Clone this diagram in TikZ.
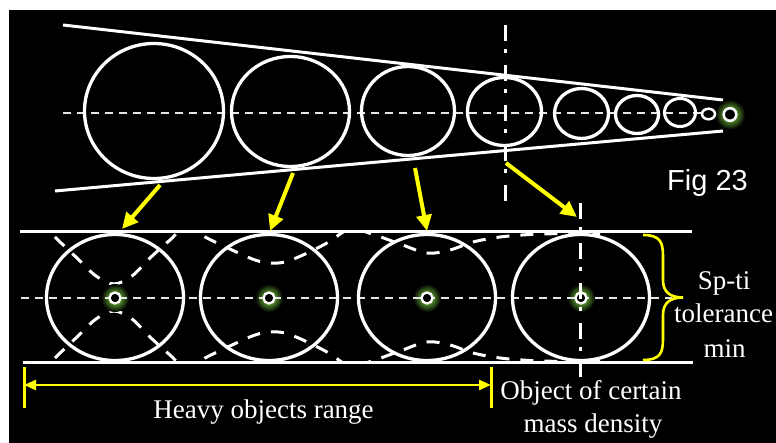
\documentclass[tikz,border=0pt]{standalone}
\usepackage{fontspec}
\setmainfont{Liberation Serif}
\newfontfamily\figfont{Liberation Sans}
\usetikzlibrary{arrows.meta}
\definecolor{yel}{RGB}{255,255,0}
\definecolor{glowc}{RGB}{85,145,45}
\pgfdeclareradialshading{glowsh}{\pgfpoint{0bp}{0bp}}{color(0bp)=(glowc); color(10bp)=(glowc); color(25bp)=(black); color(50bp)=(black)}
\begin{document}
\begin{tikzpicture}[x=1pt,y=-1pt,
  wl/.style={white,line width=3pt},
  ring/.style={white,line width=3.3pt},
  cdash/.style={white!90!black,line width=2pt,dash pattern=on 8pt off 6pt},
  wave/.style={white,line width=3pt,dash pattern=on 13pt off 11pt},
  dashdot/.style={white,line width=3pt,dash pattern=on 16pt off 8pt on 4pt off 12pt},
  yarrow/.style={yel,line width=4pt,-{Triangle[length=16pt,width=15pt]}},
  txt/.style={white,font=\fontsize{27}{33}\selectfont,inner sep=0pt},
  smallring/.style={white,line width=2.3pt,fill=black}]
\useasboundingbox (0,0) rectangle (776,443);
\fill[white] (0,0) rectangle (776,443);
\fill[black] (9,10) rectangle (776,443);

% ---------- top cone ----------
\coordinate (ctl) at (63,25);  \coordinate (ctr) at (723,100);
\coordinate (cbl) at (55,191); \coordinate (cbr) at (723,131);
\coordinate (cdl) at (63,113); \coordinate (cdr) at (705,113);
\draw[wl] (ctl) -- (ctr);
\draw[wl] (cbl) -- (cbr);
\shade[shading=glowsh] (730,114.5) circle (15pt);
\draw[cdash] (cdl) -- (cdr);
\draw[ring] (154,111) ellipse [x radius=69.5pt, y radius=67.5pt];
\draw[ring] (290.5,111.5) ellipse [x radius=59pt, y radius=55pt];
\draw[ring] (408,111) ellipse [x radius=46.5pt, y radius=44.5pt];
\draw[ring] (504.5,111.5) ellipse [x radius=37pt, y radius=34pt];
\draw[ring] (581.5,113.5) ellipse [x radius=27pt, y radius=25pt];
\draw[ring] (637,114.5) ellipse [x radius=21.5pt, y radius=19pt];
\draw[ring,line width=3pt] (680,112.5) ellipse [x radius=15.5pt, y radius=14pt];
\draw[white,line width=2.5pt] (708.5,114) ellipse [x radius=6.5pt, y radius=5.3pt];
\draw[smallring,line width=2.5pt] (730,114.5) circle (6.3pt);
\coordinate (v1t) at (505,25); \coordinate (v1b) at (505,202);
\draw[dashdot] (v1t) -- (v1b);

% ---------- bottom band ----------
\coordinate (btl) at (20,232);  \coordinate (btr) at (692,232);
\coordinate (bbl) at (23,362);  \coordinate (bbr) at (693,362);
\coordinate (bdl) at (21,298);  \coordinate (bdr) at (672,298);

\begin{scope}
\clip (20,233.5) rectangle (700,360.5);
\draw[wave] plot[smooth,tension=0.55] coordinates {(38,220) (58,240) (77,258) (96,276) (114,284) (132,276) (150,258) (170,240) (187,226) (205,237) (232,250) (255,260) (270,263) (285,262) (303,255) (327,243) (350,229) (372,234) (400,244) (427,253) (450,250) (473,242) (500,237) (530,234.5) (560,233.6) (600,233.5)};
\begin{scope}[yshift=-595pt,yscale=-1]
\draw[wave] plot[smooth,tension=0.55] coordinates {(38,220) (58,240) (77,258) (96,276) (114,284) (132,276) (150,258) (170,240) (187,226) (205,237) (232,250) (255,260) (270,263) (285,262) (303,255) (327,243) (350,229) (372,234) (400,244) (427,253) (450,250) (473,242) (500,237) (530,234.5) (560,233.6) (600,233.5)};
\end{scope}
\end{scope}

\draw[wl] (btl) -- (btr);
\draw[wl] (bbl) -- (bbr);
\foreach \cx in {115,269,427,581}{
  \shade[shading=glowsh] (\cx,298) circle (14pt);
}
\draw[cdash] (bdl) -- (bdr);
\foreach \cx in {115,269,427,581}{
  \draw[ring] (\cx,297.5) ellipse [x radius=68.5pt, y radius=63pt];
  \draw[smallring] (\cx,298) circle (5.5pt);
}
\coordinate (v2t) at (580,203); \coordinate (v2b) at (580,377);
\draw[dashdot] (v2t) -- (v2b);

% ---------- yellow arrows ----------
\coordinate (a1s) at (160,185); \coordinate (a1e) at (122,229);
\coordinate (a2s) at (293,173); \coordinate (a2e) at (270,231);
\coordinate (a3s) at (415,168); \coordinate (a3e) at (427,231);
\coordinate (a4s) at (506,163); \coordinate (a4e) at (577,217);
\draw[yarrow] (a1s) -- (a1e);
\draw[yarrow] (a2s) -- (a2e);
\draw[yarrow] (a3s) -- (a3e);
\draw[yarrow] (a4s) -- (a4e);

% brace
\coordinate (brt) at (643,235); \coordinate (brtip) at (683,297.5); \coordinate (brb) at (643,360);
\draw[yel,line width=2.6pt] (brt) .. controls (660,235) and (663,242) .. (663,256) -- (663,280)
  .. controls (663,292) and (670,297.5) .. (brtip)
  .. controls (670,297.5) and (663,303) .. (663,315) -- (663,339)
  .. controls (663,353) and (660,360) .. (brb);

% range arrow
\coordinate (rl) at (24,385); \coordinate (rr) at (491,385);
\coordinate (rlt) at (24,367); \coordinate (rlb) at (24,408);
\coordinate (rrt) at (491,367); \coordinate (rrb) at (491,408);
\draw[yel,line width=3pt] (rlt) -- (rlb);
\draw[yel,line width=3pt] (rrt) -- (rrb);
\draw[yel,line width=2.6pt,{Triangle[length=12pt,width=10pt]}-{Triangle[length=12pt,width=10pt]}] (rl) -- (rr);

% ---------- texts ----------
\node[white,font=\figfont\fontsize{29}{33}\selectfont,inner sep=0pt,anchor=base west] (fig) at (667,191) {Fig 23};
\node[txt,anchor=base] (heavy) at (263.5,418) {Heavy objects range};
\node[txt,anchor=base] (obj1) at (591,399) {Object of certain};
\node[txt,anchor=base] (obj2) at (593,432) {mass density};
\node[txt,anchor=base] (sp1) at (724,290) {Sp-ti};
\node[txt,anchor=base] (sp2) at (723.5,323) {tolerance};
\node[txt,anchor=base] (sp3) at (724.5,357) {min};
\end{tikzpicture}
\end{document}
